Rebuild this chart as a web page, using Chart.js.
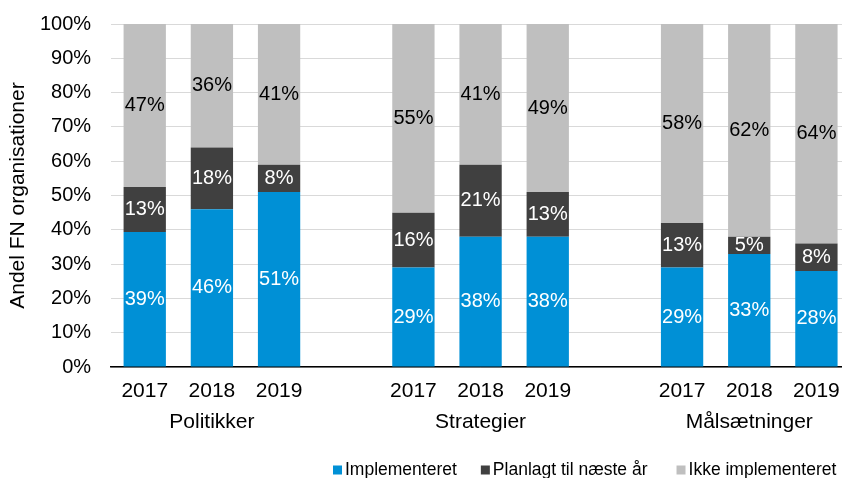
<!DOCTYPE html>
<html>
<head>
<meta charset="utf-8">
<script src="https://cdn.jsdelivr.net/npm/chart.js@4/dist/chart.umd.min.js"></script>
<style>
  html, body { margin: 0; padding: 0; background: #fff; overflow: hidden; }
  #wrap { width: 850px; height: 478px; }
</style>
</head>
<body>
<div id="wrap"><canvas id="chart" width="850" height="478"></canvas></div>
<script>
// Year labels per slot (empty slot between groups)
const years = ['2017', '2018', '2019', '', '2017', '2018', '2019', '', '2017', '2018', '2019'];
const groups = ['Politikker', 'Strategier', 'Målsætninger'];

// Shares shown on the bars (%)
const implementeret = [39, 46, 51, null, 29, 38, 38, null, 29, 33, 28];
const planlagt      = [13, 18, 8,  null, 16, 21, 13, null, 13, 5, 8];
const ikke          = [47, 36, 41, null, 55, 41, 49, null, 58, 62, 64];

const seriesNames = ['Implementeret', 'Planlagt til næste år', 'Ikke implementeret'];
const colors = ['#0090d6', '#404040', '#bfbfbf'];
const labelColors = ['#ffffff', '#ffffff', '#000000'];
const yTitle = 'Andel FN organisationer';

const FONT = "'Liberation Sans', Arial, sans-serif";

// 100% stacked: normalise each column
const raw = [implementeret, planlagt, ikke];
const totals = years.map((_, i) => raw.reduce((s, arr) => s + (arr[i] || 0), 0));
const norm = arr => arr.map((v, i) => v == null ? null : v / totals[i] * 100);

// multi-level x labels: group name under middle year
const xLabels = years.map((y, i) => {
    const g = Math.floor(i / 4);
    return (i % 4 === 1) ? [y, groups[g]] : [y, ''];
});

const barLabels = {
    id: 'barLabels',
    afterDatasetsDraw(chart) {
        const ctx = chart.ctx;
        ctx.save();
        ctx.font = '20px ' + FONT;
        ctx.textAlign = 'center';
        ctx.textBaseline = 'middle';
        chart.data.datasets.forEach((ds, di) => {
            const meta = chart.getDatasetMeta(di);
            meta.data.forEach((bar, i) => {
                const v = raw[di][i];
                if (v == null) return;
                ctx.fillStyle = labelColors[di];
                ctx.fillText(v + '%', bar.x, (bar.y + bar.base) / 2);
            });
        });
        ctx.restore();
    }
};

// y title + bottom legend drawn by hand (Excel-like placement)
const extras = {
    id: 'extras',
    afterDraw(chart) {
        const ctx = chart.ctx;
        const area = chart.chartArea;
        ctx.save();
        // axis title
        ctx.font = '21px ' + FONT;
        ctx.fillStyle = '#000';
        ctx.textAlign = 'center';
        ctx.textBaseline = 'middle';
        ctx.translate(18, (area.top + area.bottom) / 2);
        ctx.rotate(-Math.PI / 2);
        ctx.fillText(yTitle, 0, 0);
        ctx.restore();

        // legend
        ctx.save();
        ctx.font = '17.5px ' + FONT;
        ctx.textBaseline = 'middle';
        const box = 9, gap = 3;
        const itemGaps = [24, 29];
        let x = 333;
        const y = chart.height - 8;
        seriesNames.forEach((n, i) => {
            ctx.fillStyle = colors[i];
            ctx.fillRect(x, y - box / 2, box, box);
            ctx.fillStyle = '#000';
            ctx.fillText(n, x + box + gap, y);
            x += box + gap + ctx.measureText(n).width + (itemGaps[i] || 0);
        });
        ctx.restore();
    }
};

new Chart(document.getElementById('chart'), {
    type: 'bar',
    data: {
        labels: xLabels,
        datasets: raw.map((arr, i) => ({
            label: seriesNames[i],
            data: norm(arr),
            backgroundColor: colors[i],
            borderWidth: 0,
            categoryPercentage: 1,
            barPercentage: 0.63
        }))
    },
    options: {
        responsive: false,
        devicePixelRatio: 1,
        animation: false,
        layout: { padding: { left: 34, right: 0, top: 24, bottom: 40 } },
        plugins: {
            legend: { display: false },
            tooltip: { enabled: false }
        },
        scales: {
            x: {
                stacked: true,
                grid: { display: false },
                border: { color: '#000', width: 1.5 },
                ticks: {
                    color: '#000',
                    font: { family: FONT, size: 21, lineHeight: 1.45 },
                    padding: 1,
                    maxRotation: 0,
                    autoSkip: false
                }
            },
            y: {
                stacked: true,
                min: 0,
                max: 100,
                grid: { color: '#d9d9d9', lineWidth: 1, drawTicks: true, tickLength: 14, tickColor: 'rgba(0,0,0,0)' },
                border: { display: false },
                ticks: {
                    stepSize: 10,
                    color: '#000',
                    padding: 6,
                    font: { family: FONT, size: 20 },
                    callback: v => v + '%'
                }
            }
        }
    },
    plugins: [barLabels, extras]
});
</script>
</body>
</html>
